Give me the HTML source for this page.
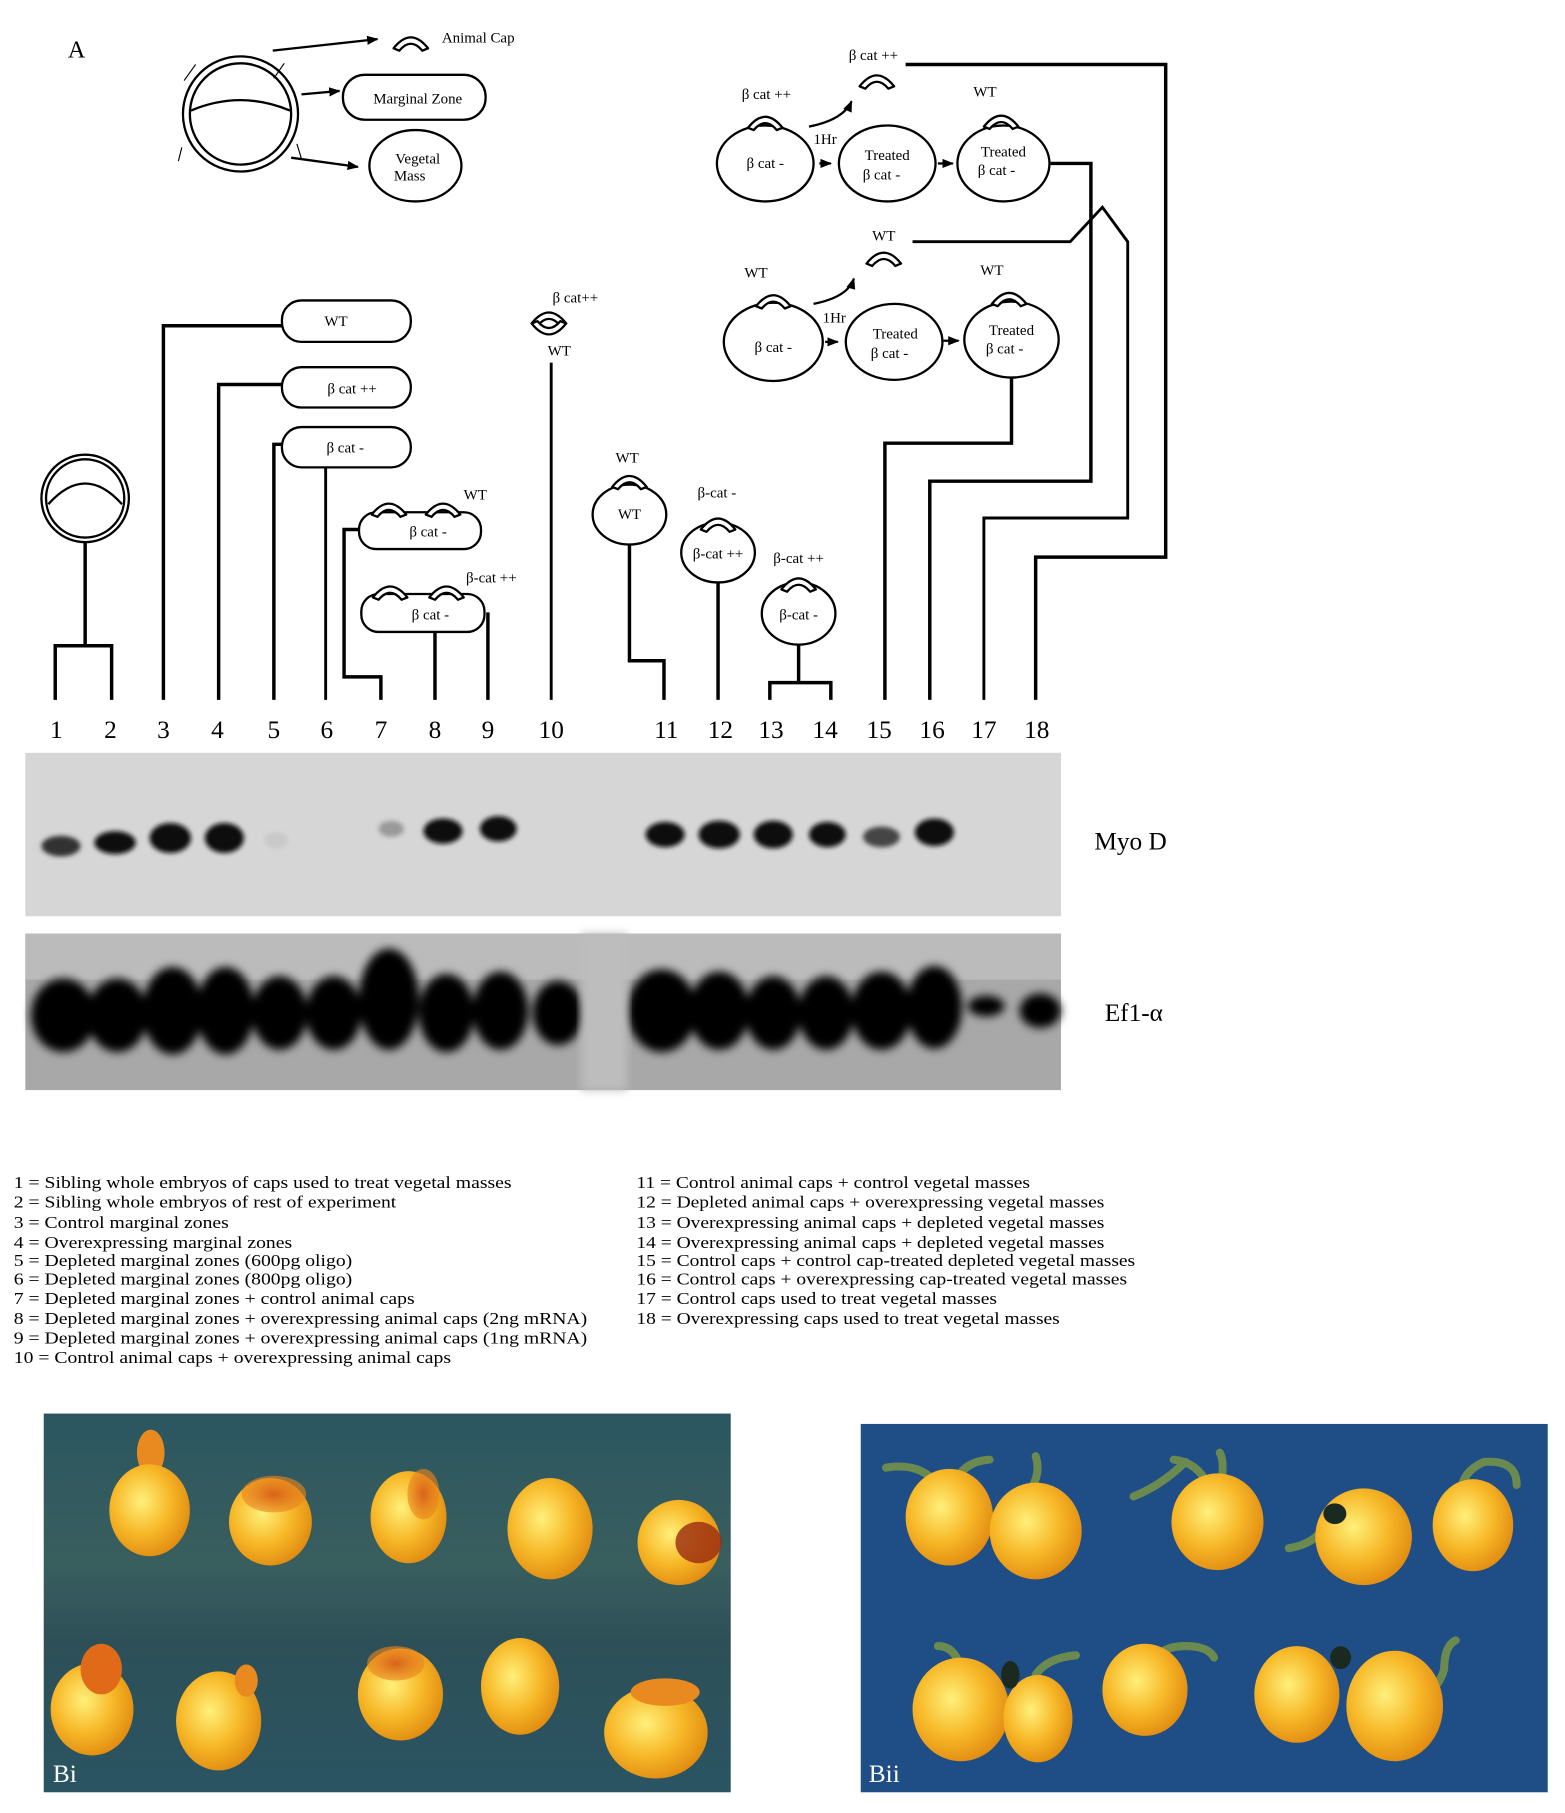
<!DOCTYPE html>
<html><head><meta charset="utf-8"><style>
html,body{margin:0;padding:0;background:#fff;}
svg{display:block}
text{font-family:"Liberation Serif",serif;fill:#000}
</style></head><body>
<svg width="1565" height="1813" viewBox="0 0 1360 1575" preserveAspectRatio="none" xmlns="http://www.w3.org/2000/svg">
<defs>
<marker id="ah" markerUnits="userSpaceOnUse" markerWidth="10" markerHeight="10" refX="9" refY="5" orient="auto"><path d="M0,1 L10,5 L0,9z" fill="#000"/></marker>
<g id="cap"><path d="M-15,5 Q0,-14 15,5 L10,7 Q0,-5 -10,7 Z" fill="#fff" stroke="#000" stroke-width="2" stroke-linejoin="round"/></g>
<radialGradient id="eg" cx="40%" cy="40%" r="65%"><stop offset="0" stop-color="#fff07a"/><stop offset="0.55" stop-color="#f7b828"/><stop offset="1" stop-color="#e08a10"/></radialGradient>
<radialGradient id="eo" cx="50%" cy="50%" r="50%"><stop offset="0" stop-color="#d9621a"/><stop offset="1" stop-color="#e8861c" stop-opacity="0.6"/></radialGradient>
<linearGradient id="bgi" x1="0" y1="0" x2="0" y2="1"><stop offset="0" stop-color="#2b5660"/><stop offset="0.4" stop-color="#395e5e"/><stop offset="0.6" stop-color="#2d5058"/><stop offset="1" stop-color="#2a5462"/></linearGradient>
<filter id="bl"><feGaussianBlur stdDeviation="4"/></filter>
<filter id="bl2"><feGaussianBlur stdDeviation="2"/></filter>
</defs>
<g stroke="#000" fill="none" stroke-width="2">
<ellipse cx="209" cy="99" rx="50" ry="50"/>
<ellipse cx="209" cy="99" rx="44" ry="44"/>
<path d="M166,96 Q209,78 252,96"/>
<path d="M170,56 L160,70 M247,55 L238,68 M158,128 L155,140 M258,125 L262,138" stroke-width="1"/>
<line x1="237" y1="44" x2="328" y2="34" marker-end="url(#ah)"/>
<line x1="262" y1="82" x2="295" y2="79" marker-end="url(#ah)"/>
<line x1="253" y1="137" x2="311" y2="145" marker-end="url(#ah)"/>
<rect x="298" y="65" width="124" height="39" rx="19"/>
<ellipse cx="361" cy="144" rx="40" ry="31"/>
</g>
<use href="#cap" x="357" y="37"/>
<text x="59" y="50" font-size="21">A</text>
<text x="384" y="37" font-size="13">Animal Cap</text>
<text x="363" y="90" font-size="13" text-anchor="middle">Marginal Zone</text>
<text x="363" y="142" font-size="13" text-anchor="middle">Vegetal</text>
<text x="356" y="157" font-size="13" text-anchor="middle">Mass</text>

<g stroke="#000" fill="none" stroke-width="2">
<ellipse cx="665" cy="142" rx="42" ry="33"/>
<ellipse cx="771" cy="142" rx="42" ry="33"/>
<ellipse cx="872" cy="142" rx="40" ry="33"/>
<path d="M703,110 Q733,104 740,88" marker-end="url(#ah)"/>
<line x1="712" y1="142" x2="722" y2="142" marker-end="url(#ah)"/>
<line x1="815" y1="142" x2="828" y2="142" marker-end="url(#ah)"/>
<ellipse cx="672" cy="297" rx="43" ry="34"/>
<ellipse cx="777" cy="297" rx="42" ry="33"/>
<ellipse cx="879" cy="295" rx="41" ry="33"/>
<path d="M707,264 Q737,258 742,242" marker-end="url(#ah)"/>
<line x1="717" y1="297" x2="728" y2="297" marker-end="url(#ah)"/>
<line x1="820" y1="296" x2="833" y2="296" marker-end="url(#ah)"/>
</g>
<g stroke="#000" fill="none" stroke-width="3">
<path d="M787,56 L1013,56 L1013,484 L900,484 L900,608"/>
<path d="M913,142 L948,142 L948,418 L808,418 L808,608"/>
<path d="M793,210 L930,210 L958,180 L980,210 L980,450 L855,450 L855,608" stroke-width="2.5"/>
<path d="M879,328 L879,385 L769,385 L769,608"/>
</g>
<use href="#cap" x="665" y="106"/><use href="#cap" x="762" y="70"/><use href="#cap" x="870" y="105"/>
<use href="#cap" x="672" y="261"/><use href="#cap" x="768" y="224"/><use href="#cap" x="877" y="259"/>
<g font-size="13">
<text x="666" y="86" text-anchor="middle">β cat ++</text>
<text x="759" y="52" text-anchor="middle">β cat ++</text>
<text x="856" y="84" text-anchor="middle">WT</text>
<text x="665" y="146" text-anchor="middle">β cat -</text>
<text x="717" y="125" text-anchor="middle">1Hr</text>
<text x="771" y="139" text-anchor="middle">Treated</text>
<text x="766" y="156" text-anchor="middle">β cat -</text>
<text x="872" y="136" text-anchor="middle">Treated</text>
<text x="866" y="152" text-anchor="middle">β cat -</text>
<text x="657" y="241" text-anchor="middle">WT</text>
<text x="768" y="209" text-anchor="middle">WT</text>
<text x="862" y="239" text-anchor="middle">WT</text>
<text x="672" y="306" text-anchor="middle">β cat -</text>
<text x="725" y="280" text-anchor="middle">1Hr</text>
<text x="778" y="294" text-anchor="middle">Treated</text>
<text x="773" y="311" text-anchor="middle">β cat -</text>
<text x="879" y="291" text-anchor="middle">Treated</text>
<text x="873" y="307" text-anchor="middle">β cat -</text>
</g>

<g stroke="#000" fill="none" stroke-width="2">
<ellipse cx="74" cy="433" rx="38" ry="38"/>
<ellipse cx="74" cy="433" rx="34" ry="34"/>
<path d="M42,438 Q74,402 106,438"/>
<rect x="245" y="261" width="112" height="36" rx="17"/>
<rect x="245" y="319" width="112" height="35" rx="17"/>
<rect x="245" y="371" width="112" height="35" rx="17"/>
<rect x="312" y="445" width="106" height="32" rx="15"/>
<rect x="314" y="516" width="107" height="33" rx="15"/>
<ellipse cx="547" cy="447" rx="32" ry="26"/>
<ellipse cx="624" cy="480" rx="32" ry="26"/>
<ellipse cx="694" cy="533" rx="32" ry="27"/>
</g>
<g stroke="#000" fill="none" stroke-width="3">
<path d="M74,471 L74,561 M48,608 L48,561 L97,561 L97,608"/>
<path d="M245,283 L142,283 L142,608"/>
<path d="M245,334 L190,334 L190,608"/>
<path d="M245,386 L238,386 L238,608"/>
<path d="M283,406 L283,608" stroke-width="2.5"/>
<path d="M312,460 L299,460 L299,588 L331,588 L331,608"/>
<path d="M378,549 L378,608 M424,532 L424,608"/>
<path d="M479,315 L479,608" stroke-width="2.5"/>
<path d="M547,473 L547,574 L577,574 L577,608"/>
<path d="M624,506 L624,608"/>
<path d="M694,560 L694,593 M669,608 L669,593 L722,593 L722,608"/>
</g>
<use href="#cap" x="338" y="442"/><use href="#cap" x="385" y="442"/>
<use href="#cap" x="339" y="514"/><use href="#cap" x="388" y="514"/>
<use href="#cap" x="477" y="276"/>
<g transform="translate(477,286) scale(1,-1)"><use href="#cap"/></g>
<use href="#cap" x="547" y="418"/><use href="#cap" x="624" y="455"/><use href="#cap" x="694" y="507"/>
<g font-size="13">
<text x="292" y="283" text-anchor="middle">WT</text>
<text x="306" y="342" text-anchor="middle">β cat ++</text>
<text x="300" y="393" text-anchor="middle">β cat -</text>
<text x="372" y="466" text-anchor="middle">β cat -</text>
<text x="413" y="434" text-anchor="middle">WT</text>
<text x="374" y="538" text-anchor="middle">β cat -</text>
<text x="427" y="506" text-anchor="middle">β-cat ++</text>
<text x="500" y="263" text-anchor="middle">β cat++</text>
<text x="486" y="309" text-anchor="middle">WT</text>
<text x="545" y="402" text-anchor="middle">WT</text>
<text x="547" y="451" text-anchor="middle">WT</text>
<text x="623" y="432" text-anchor="middle">β-cat -</text>
<text x="624" y="485" text-anchor="middle">β-cat ++</text>
<text x="694" y="489" text-anchor="middle">β-cat ++</text>
<text x="694" y="538" text-anchor="middle">β-cat -</text>
</g>
<g font-size="22" text-anchor="middle">
<text x="49" y="641">1</text><text x="96" y="641">2</text><text x="142" y="641">3</text><text x="189" y="641">4</text><text x="238" y="641">5</text><text x="284" y="641">6</text><text x="331" y="641">7</text><text x="378" y="641">8</text><text x="424" y="641">9</text><text x="479" y="641">10</text><text x="579" y="641">11</text><text x="626" y="641">12</text><text x="670" y="641">13</text><text x="717" y="641">14</text><text x="764" y="641">15</text><text x="810" y="641">16</text><text x="855" y="641">17</text><text x="901" y="641">18</text>
</g>

<rect x="22" y="654" width="900" height="142" fill="#d6d6d6"/>
<g fill="#111" filter="url(#bl2)">
<ellipse cx="53" cy="735" rx="17" ry="9" fill="#333"/>
<ellipse cx="100" cy="732" rx="18" ry="10"/>
<ellipse cx="148" cy="728" rx="18" ry="13"/>
<ellipse cx="195" cy="728" rx="17" ry="13"/>
<ellipse cx="240" cy="730" rx="10" ry="7" fill="#c8c8c8"/>
<ellipse cx="340" cy="720" rx="11" ry="7" fill="#9a9a9a"/>
<ellipse cx="385" cy="722" rx="17" ry="11"/>
<ellipse cx="433" cy="720" rx="16" ry="11"/>
<ellipse cx="578" cy="725" rx="17" ry="11"/>
<ellipse cx="625" cy="725" rx="18" ry="12"/>
<ellipse cx="672" cy="725" rx="17" ry="12"/>
<ellipse cx="719" cy="725" rx="16" ry="11"/>
<ellipse cx="766" cy="727" rx="16" ry="9" fill="#444"/>
<ellipse cx="812" cy="723" rx="17" ry="12"/>
</g>
<rect x="22" y="811" width="900" height="136" fill="#a8a8a8"/>
<rect x="22" y="811" width="900" height="40" fill="#c8c8c8" opacity="0.6"/>
<g fill="#000" filter="url(#bl)">
<ellipse cx="55" cy="882" rx="28" ry="32"/><ellipse cx="102" cy="882" rx="26" ry="32"/>
<ellipse cx="150" cy="878" rx="26" ry="38"/><ellipse cx="196" cy="878" rx="25" ry="38"/>
<ellipse cx="243" cy="880" rx="24" ry="32"/><ellipse cx="290" cy="880" rx="24" ry="32"/>
<ellipse cx="338" cy="868" rx="26" ry="44"/><ellipse cx="388" cy="880" rx="24" ry="34"/>
<ellipse cx="435" cy="878" rx="24" ry="34"/><ellipse cx="485" cy="880" rx="22" ry="28"/>
<ellipse cx="575" cy="878" rx="30" ry="36"/><ellipse cx="625" cy="878" rx="26" ry="34"/>
<ellipse cx="672" cy="880" rx="24" ry="32"/><ellipse cx="718" cy="880" rx="24" ry="32"/>
<ellipse cx="766" cy="878" rx="26" ry="34"/><ellipse cx="812" cy="875" rx="24" ry="36"/>
<ellipse cx="857" cy="874" rx="16" ry="9"/><ellipse cx="904" cy="878" rx="18" ry="15"/>
</g>
<rect x="505" y="811" width="40" height="136" fill="#bdbdbd" filter="url(#bl)"/>
<text x="951" y="738" font-size="22">Myo D</text>
<text x="960" y="887" font-size="22">Ef1-α</text>

<g font-size="15" transform="translate(12,0) scale(1.14,1) translate(-12,0)">
<text x="12" y="1032">1 = Sibling whole embryos of caps used to treat vegetal masses</text>
<text x="12" y="1049">2 = Sibling whole embryos of rest of experiment</text>
<text x="12" y="1067">3 = Control marginal zones</text>
<text x="12" y="1084">4 = Overexpressing marginal zones</text>
<text x="12" y="1100">5 = Depleted marginal zones (600pg oligo)</text>
<text x="12" y="1116">6 = Depleted marginal zones (800pg oligo)</text>
<text x="12" y="1133">7 = Depleted marginal zones + control animal caps</text>
<text x="12" y="1150">8 = Depleted marginal zones + overexpressing animal caps (2ng mRNA)</text>
<text x="12" y="1167">9 = Depleted marginal zones + overexpressing animal caps (1ng mRNA)</text>
<text x="12" y="1184">10 = Control animal caps + overexpressing animal caps</text>
</g>
<g font-size="15" transform="translate(553,0) scale(1.13,1) translate(-553,0)">
<text x="553" y="1032">11 = Control animal caps + control vegetal masses</text>
<text x="553" y="1049">12 = Depleted animal caps + overexpressing vegetal masses</text>
<text x="553" y="1067">13 = Overexpressing animal caps + depleted vegetal masses</text>
<text x="553" y="1084">14 = Overexpressing animal caps + depleted vegetal masses</text>
<text x="553" y="1100">15 = Control caps + control cap-treated depleted vegetal masses</text>
<text x="553" y="1116">16 = Control caps + overexpressing cap-treated vegetal masses</text>
<text x="553" y="1133">17 = Control caps used to treat vegetal masses</text>
<text x="553" y="1150">18 = Overexpressing caps used to treat vegetal masses</text>
</g>

<rect x="38" y="1228" width="597" height="329" fill="url(#bgi)"/>
<g>
<ellipse cx="131" cy="1262" rx="12" ry="20" fill="#e88a20"/>
<ellipse cx="130" cy="1312" rx="35" ry="40" fill="url(#eg)"/>
<ellipse cx="235" cy="1322" rx="36" ry="38" fill="url(#eg)"/><ellipse cx="238" cy="1298" rx="28" ry="16" fill="url(#eo)"/>
<ellipse cx="355" cy="1318" rx="33" ry="40" fill="url(#eg)"/><ellipse cx="368" cy="1298" rx="14" ry="22" fill="url(#eo)"/>
<ellipse cx="478" cy="1328" rx="37" ry="44" fill="url(#eg)"/>
<ellipse cx="590" cy="1340" rx="36" ry="37" fill="url(#eg)"/><ellipse cx="607" cy="1340" rx="20" ry="18" fill="#9a2a10" opacity="0.8"/>
<ellipse cx="80" cy="1485" rx="36" ry="40" fill="url(#eg)"/><ellipse cx="88" cy="1450" rx="18" ry="22" fill="#e06a18"/>
<ellipse cx="190" cy="1495" rx="37" ry="43" fill="url(#eg)"/><ellipse cx="214" cy="1460" rx="10" ry="14" fill="#e88a20"/>
<ellipse cx="348" cy="1472" rx="37" ry="40" fill="url(#eg)"/><ellipse cx="344" cy="1445" rx="25" ry="15" fill="url(#eo)"/>
<ellipse cx="452" cy="1465" rx="34" ry="42" fill="url(#eg)"/>
<ellipse cx="570" cy="1505" rx="45" ry="40" fill="url(#eg)"/><ellipse cx="578" cy="1470" rx="30" ry="12" fill="#e88a20"/>
</g>
<text x="46" y="1548" font-size="22" style="fill:#fff">Bi</text>
<rect x="748" y="1237" width="597" height="320" fill="#1f4d85"/>
<g>
<g stroke="#6a8a50" stroke-width="7" fill="none" stroke-linecap="round">
<path d="M815,1290 Q800,1270 770,1275 M830,1290 Q835,1270 860,1268"/>
<path d="M895,1295 Q905,1280 900,1265"/>
<path d="M1050,1290 Q1040,1270 1020,1268 M1060,1295 Q1065,1270 1060,1262 M1030,1270 Q1010,1290 985,1300"/>
<path d="M1155,1315 Q1150,1340 1120,1345 M1160,1310 Q1185,1300 1190,1325"/>
<path d="M1270,1310 Q1265,1280 1290,1270 Q1318,1268 1318,1290"/>
<path d="M835,1450 Q830,1430 815,1430 M900,1455 Q910,1440 935,1438"/>
<path d="M1000,1450 Q1005,1430 1030,1430 Q1050,1430 1055,1440"/>
<path d="M1225,1480 Q1250,1470 1255,1450 Q1255,1430 1265,1425"/>
</g>
<ellipse cx="825" cy="1318" rx="38" ry="42" fill="url(#eg)"/>
<ellipse cx="900" cy="1330" rx="40" ry="42" fill="url(#eg)"/>
<ellipse cx="1058" cy="1322" rx="40" ry="42" fill="url(#eg)"/>
<ellipse cx="1185" cy="1335" rx="42" ry="42" fill="url(#eg)"/>
<ellipse cx="1280" cy="1325" rx="35" ry="40" fill="url(#eg)"/>
<ellipse cx="835" cy="1485" rx="42" ry="45" fill="url(#eg)"/>
<ellipse cx="902" cy="1493" rx="30" ry="38" fill="url(#eg)"/>
<ellipse cx="995" cy="1468" rx="37" ry="40" fill="url(#eg)"/>
<ellipse cx="1127" cy="1472" rx="37" ry="42" fill="url(#eg)"/>
<ellipse cx="1212" cy="1482" rx="42" ry="48" fill="url(#eg)"/>
<ellipse cx="1160" cy="1315" rx="10" ry="9" fill="#1a2a20"/>
<ellipse cx="878" cy="1455" rx="8" ry="12" fill="#1a2a20"/>
<ellipse cx="1165" cy="1440" rx="9" ry="10" fill="#1a2a20"/>
</g>
<text x="755" y="1548" font-size="22" style="fill:#fff">Bii</text>
</svg>
</body></html>
